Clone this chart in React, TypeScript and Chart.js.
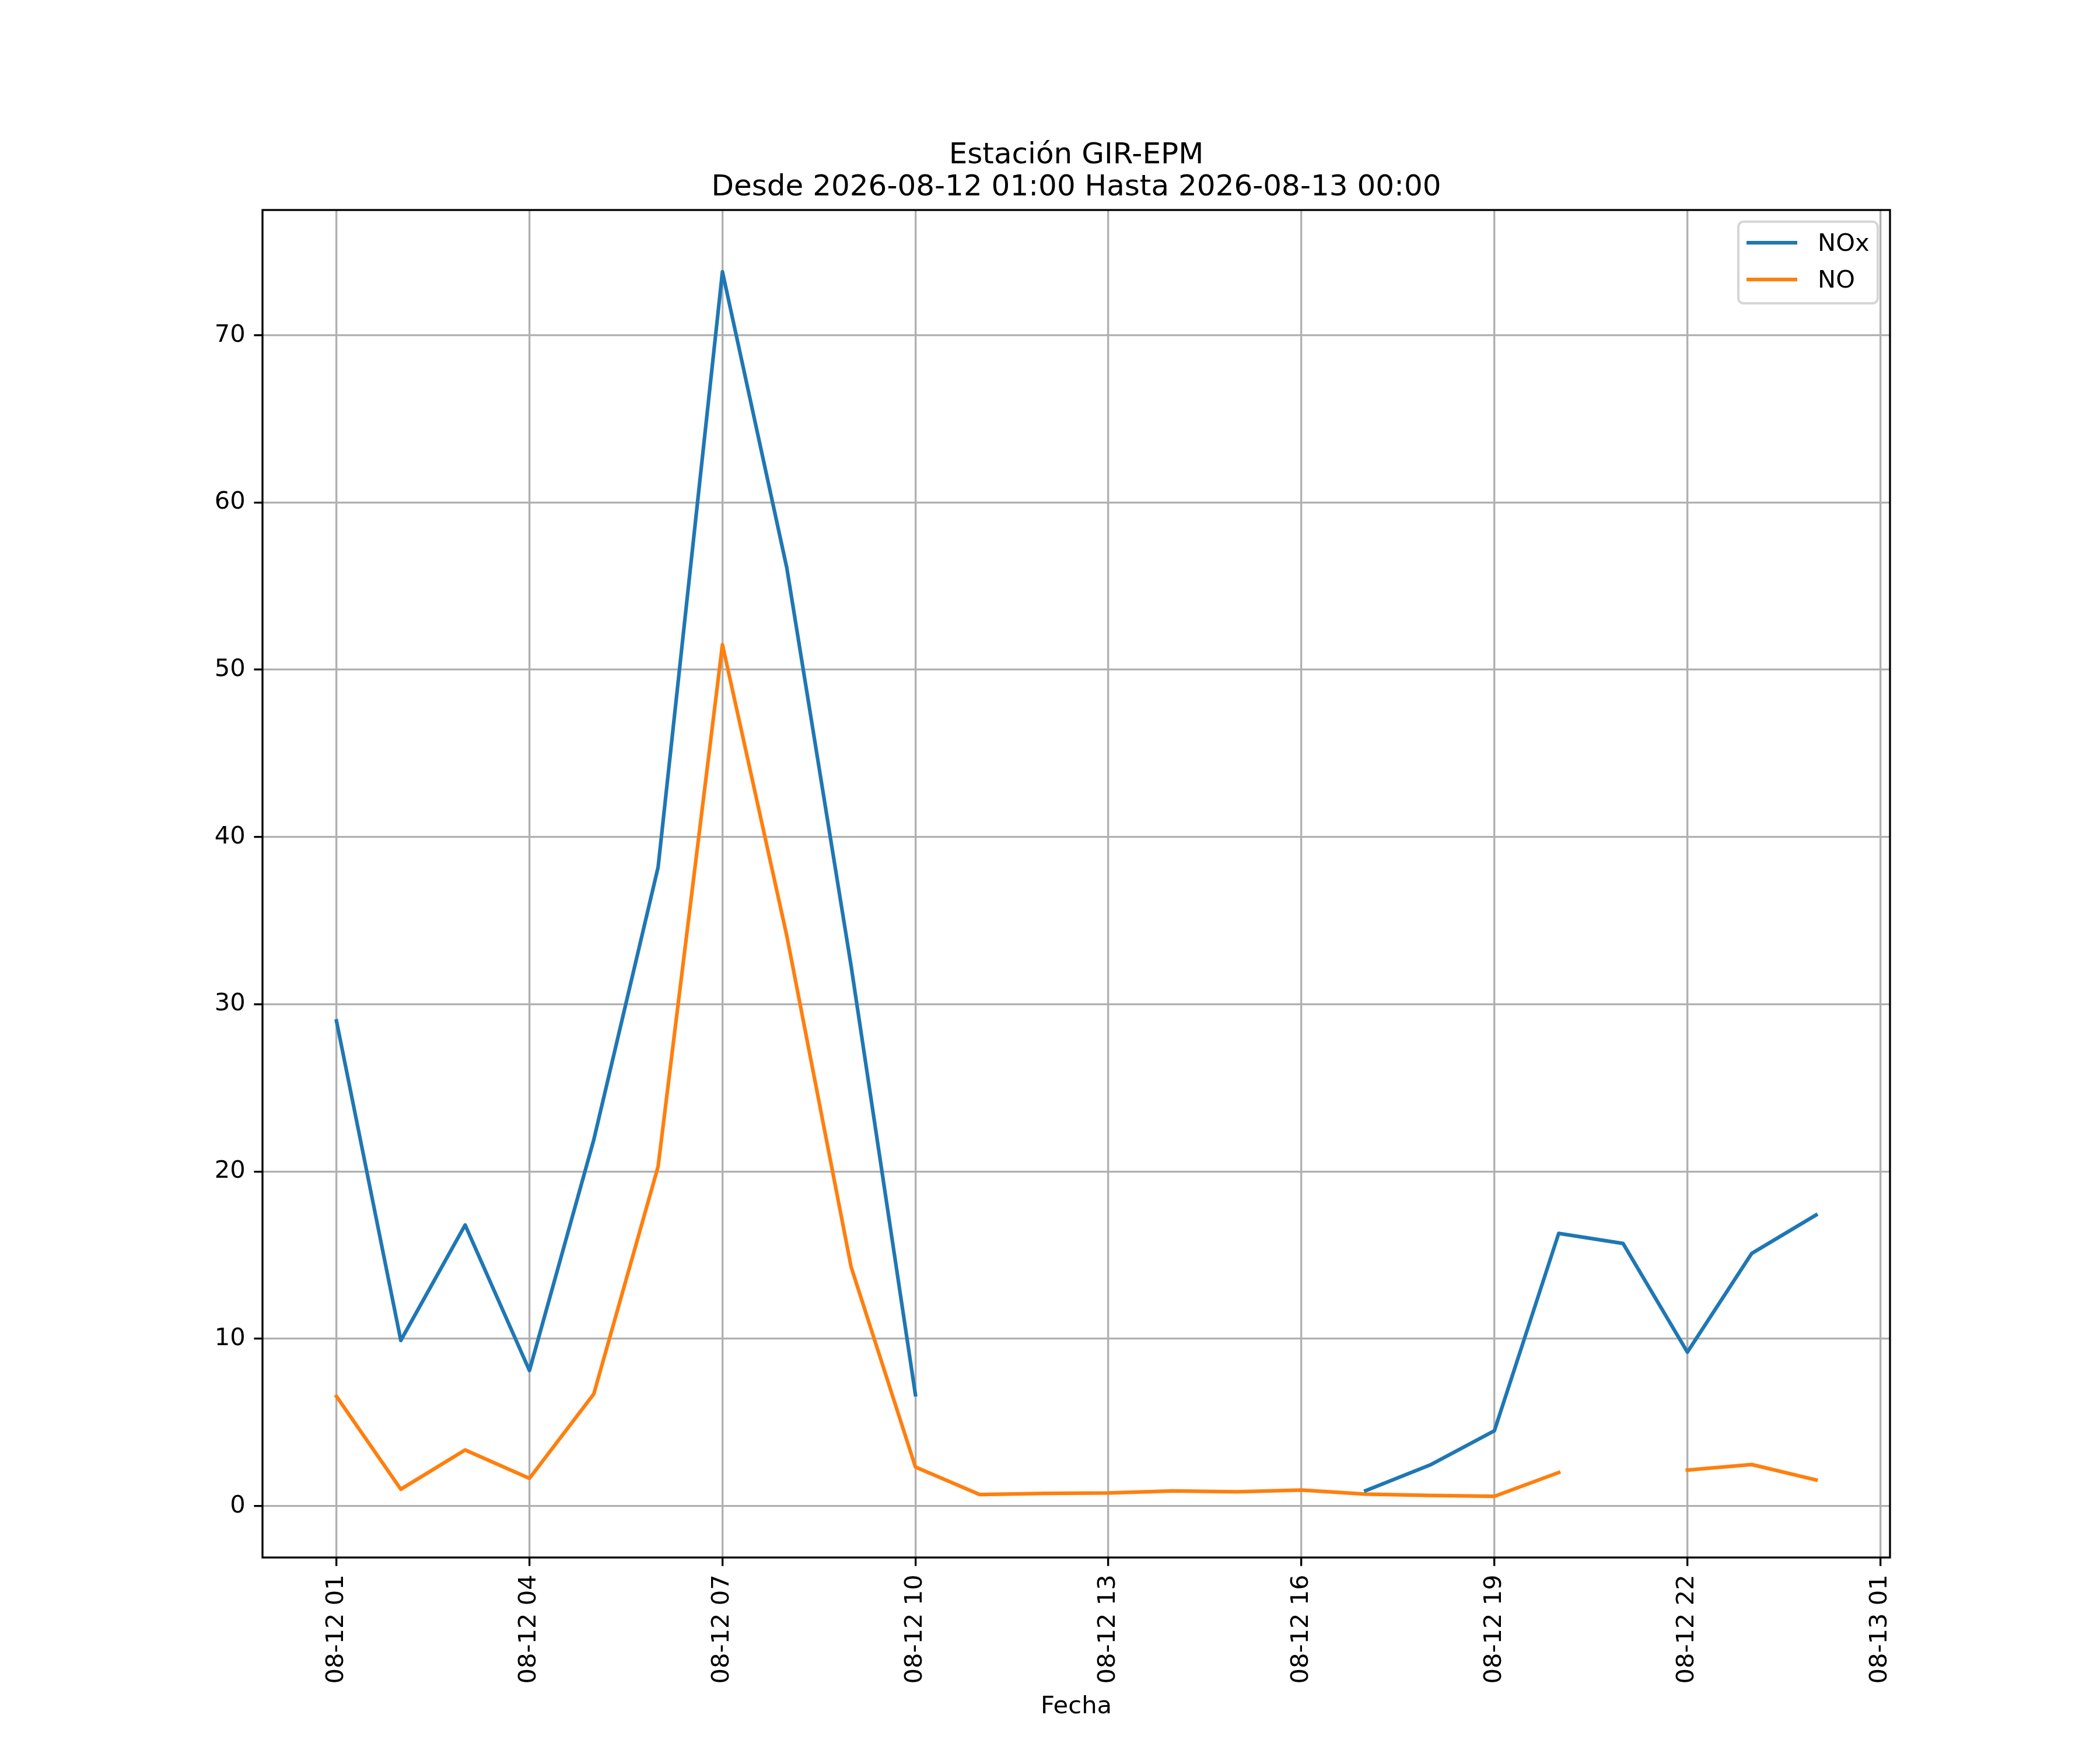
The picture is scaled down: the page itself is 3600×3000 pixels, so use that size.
import { useEffect, useRef } from "react";
import { Chart, registerables } from "chart.js";

Chart.register(...registerables);

// hours of 2026-08-12 (24 = 08-13 00:00)
const HOURS = [1, 2, 3, 4, 5, 6, 7, 8, 9, 10, 11, 12, 13, 14, 15, 16, 17, 18, 19, 20, 21, 22, 23, 24];

const NOX = [
  29.0, 9.9, 16.8, 8.1, 21.9, 38.2, 73.8, 56.1, 32.3, 6.65,
  null, null, null, null, null, null,
  0.92, 2.45, 4.5, 16.3, 15.7, 9.2, 15.1, 17.4,
];

const NO = [
  6.55, 1.0, 3.35, 1.65, 6.7, 20.3, 51.5, 34.1, 14.3, 2.33,
  0.68, 0.75, 0.78, 0.9, 0.85, 0.95, 0.71, 0.63, 0.58, 2.0,
  null, 2.15, 2.48, 1.56,
];

const X_TICKS = [1, 4, 7, 10, 13, 16, 19, 22, 25];
const X_TICK_LABELS = ["08-12 01", "08-12 04", "08-12 07", "08-12 10", "08-12 13", "08-12 16", "08-12 19", "08-12 22", "08-13 01"];
const Y_TICKS = [0, 10, 20, 30, 40, 50, 60, 70];

const TITLE = ["Estación GIR-EPM", "Desde 2026-08-12 01:00 Hasta 2026-08-13 00:00"];
const X_LABEL = "Fecha";

const FONT = "DejaVu Sans";
const PT = 300 / 72; // figure drawn at 300 dpi

const decor = {
  id: "mplDecor",
  afterDraw(chart: Chart) {
    const ctx = chart.ctx;
    const a = chart.chartArea;
    const cx = (a.left + a.right) / 2;
    ctx.save();

    // spines
    ctx.strokeStyle = "#000";
    ctx.lineWidth = 0.8 * PT;
    ctx.strokeRect(a.left, a.top, a.right - a.left, a.bottom - a.top);

    // title
    ctx.fillStyle = "#000";
    ctx.textAlign = "center";
    ctx.textBaseline = "alphabetic";
    ctx.font = `${12 * PT}px "${FONT}"`;
    ctx.fillText(TITLE[0], cx, a.top - 80);
    ctx.fillText(TITLE[1], cx, a.top - 25);

    // x label
    ctx.font = `${10 * PT}px "${FONT}"`;
    ctx.fillText(X_LABEL, cx, 2937);

    // legend
    const bw = 239, bh = 140;
    const bx = a.right - 21 - bw, by = a.top + 20;
    ctx.beginPath();
    ctx.roundRect(bx, by, bw, bh, 9);
    ctx.fillStyle = "rgba(255,255,255,0.8)";
    ctx.fill();
    ctx.strokeStyle = "rgba(204,204,204,0.8)";
    ctx.lineWidth = 1.0 * PT;
    ctx.stroke();

    chart.data.datasets.forEach((ds, i) => {
      const ly = by + 36 + i * 63;
      ctx.beginPath();
      ctx.moveTo(bx + 14, ly);
      ctx.lineTo(bx + 101, ly);
      ctx.strokeStyle = ds.borderColor as string;
      ctx.lineWidth = 1.5 * PT;
      ctx.lineCap = "butt";
      ctx.stroke();
      ctx.fillStyle = "#000";
      ctx.textAlign = "left";
      ctx.textBaseline = "alphabetic";
      ctx.fillText(ds.label as string, bx + 136, ly + 14);
    });

    ctx.restore();
  },
};

export default function App() {
  const canvasRef = useRef<HTMLCanvasElement>(null);
  const chartRef = useRef<Chart | null>(null);

  useEffect(() => {
    if (!canvasRef.current) return;
    if (chartRef.current) chartRef.current.destroy();

    const tickFont = { family: FONT, size: 10 * PT };

    chartRef.current = new Chart(canvasRef.current, {
      type: "line",
      data: {
        datasets: [
          {
            label: "NOx",
            data: HOURS.map((h, i) => ({ x: h, y: NOX[i] })),
            borderColor: "#1f77b4",
            borderWidth: 1.5 * PT,
            pointRadius: 0,
            spanGaps: false,
            borderJoinStyle: "round",
            borderCapStyle: "square",
          },
          {
            label: "NO",
            data: HOURS.map((h, i) => ({ x: h, y: NO[i] })),
            borderColor: "#ff7f0e",
            borderWidth: 1.5 * PT,
            pointRadius: 0,
            spanGaps: false,
            borderJoinStyle: "round",
            borderCapStyle: "square",
          },
        ],
      },
      options: {
        responsive: false,
        devicePixelRatio: 1,
        animation: false,
        layout: { padding: { left: 0, right: 360, top: 360, bottom: 0 } },
        plugins: {
          legend: { display: false },
          title: { display: false },
          tooltip: { enabled: false },
        },
        scales: {
          x: {
            type: "linear",
            min: -0.15,
            max: 25.15,
            afterBuildTicks: s => { s.ticks = X_TICKS.map(v => ({ value: v })); },
            afterFit: s => { s.height = 330; },
            border: { display: false },
            grid: {
              color: "#b0b0b0",
              lineWidth: 0.8 * PT,
              tickColor: "#000",
              tickLength: 3.5 * PT,
              tickWidth: 0.8 * PT,
            },
            ticks: {
              autoSkip: false,
              minRotation: 90,
              maxRotation: 90,
              padding: 3.5 * PT,
              color: "#000",
              font: tickFont,
              callback: v => X_TICK_LABELS[X_TICKS.indexOf(Number(v))] ?? "",
            },
          },
          y: {
            type: "linear",
            min: -3.08,
            max: 77.49,
            afterBuildTicks: s => { s.ticks = Y_TICKS.map(v => ({ value: v })); },
            afterFit: s => { s.width = 450; },
            border: { display: false },
            grid: {
              color: "#b0b0b0",
              lineWidth: 0.8 * PT,
              tickColor: "#000",
              tickLength: 3.5 * PT,
              tickWidth: 0.8 * PT,
            },
            ticks: {
              padding: 3.5 * PT,
              color: "#000",
              font: tickFont,
              callback: v => String(v),
            },
          },
        },
      },
      plugins: [decor],
    });

    return () => { chartRef.current?.destroy(); };
  }, []);

  return (
    <div style={{ position: "absolute", left: 0, top: 0, width: 3600, height: 3000, background: "#fff" }}>
      <canvas ref={canvasRef} width={3600} height={3000} style={{ width: 3600, height: 3000 }} />
    </div>
  );
}
